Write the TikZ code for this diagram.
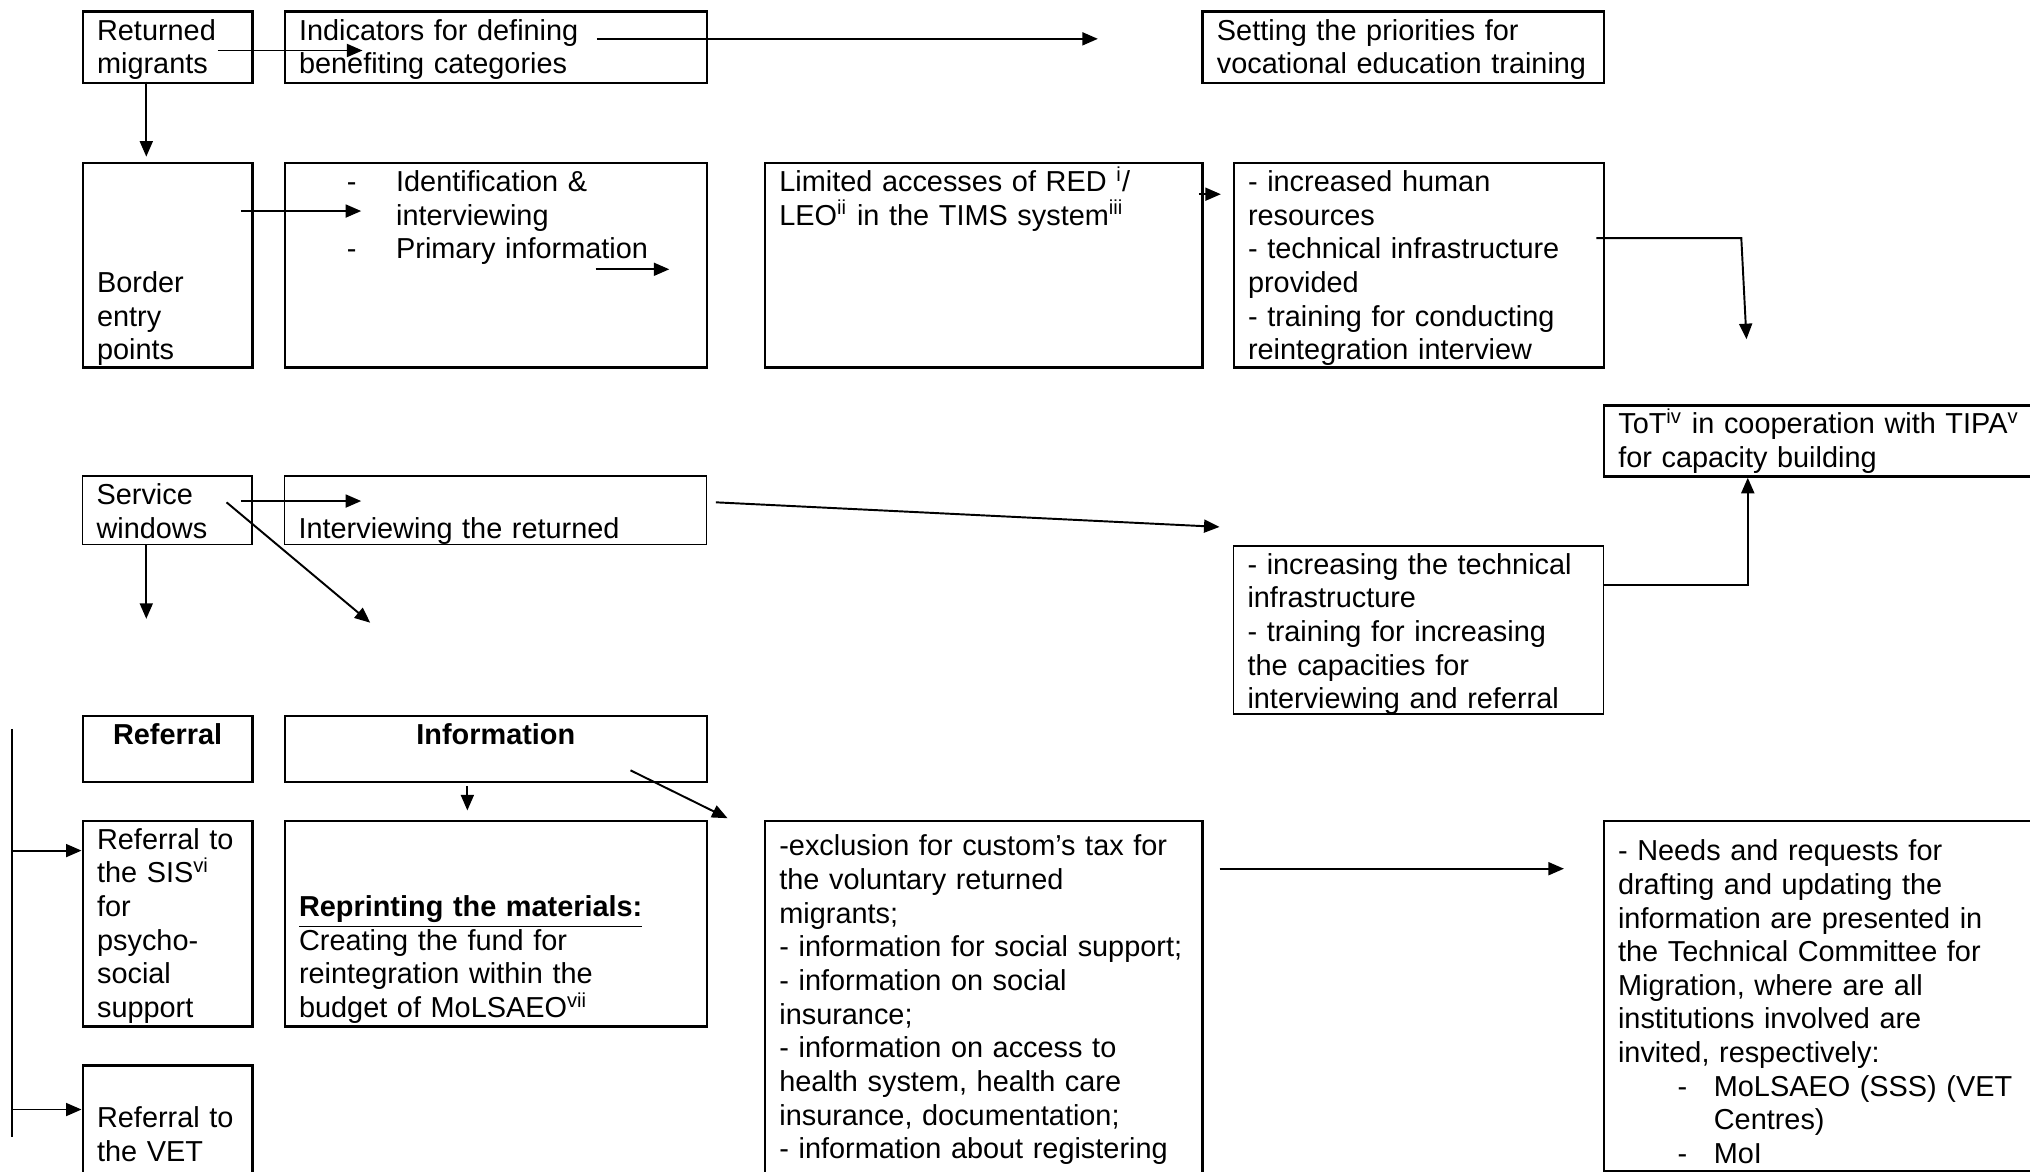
\documentclass[tikz,border=0pt]{standalone}
\usepackage{fontspec}
\setmainfont{Liberation Sans}
\usetikzlibrary{arrows.meta}

\begin{document}
\begin{tikzpicture}[x=0.5pt, y=-0.5pt,
  >={Triangle[length=6pt,width=5pt]},
  box/.style={draw, line width=1pt, anchor=north west, inner xsep=5.5pt, inner ysep=0pt,
    align=left, text height=11pt, font=\fontsize{11.15}{13}\selectfont},
  thinbox/.style={box, line width=0.6pt},
  link/.style={line width=0.75pt}]
  \useasboundingbox (0,0) rectangle (1568,905);
  \clip (0,0) rectangle (1568,905);

  % first column
  \node[box, text width=54.5pt, text depth=16.5pt] (ret) at (63,8) {Returned\\migrants};
  \node[box, text width=54.5pt, text depth=68pt] (bord) at (63,125)
    {\mbox{}\\\mbox{}\\\mbox{}\\Border\\entry\\points};
  \node[thinbox, text width=54.5pt, text depth=15.5pt] (serv) at (63,367) {Service\\windows};
  \node[box, align=center, text width=54.5pt, text depth=14.5pt] (refl) at (63,552) {\textbf{Referral}};
  \node[box, text width=54.5pt, text depth=68.5pt] (sis) at (63,633)
    {Referral to\\the SIS\textsuperscript{vi}\\for\\psycho-\\social\\support};
  \node[box, text width=54.5pt, text depth=58pt] (vet) at (63,822) {\mbox{}\\Referral to\\the VET};

  % second column
  \node[box, text width=152pt, text depth=16.5pt] (ind) at (219,8)
    {Indicators for defining\\benefiting categories};
  \node[box, text width=152pt, text depth=68pt] (ident) at (219,125)
    {\hspace*{18.5pt}\makebox[19pt][l]{-}Identification \&\\
     \hspace*{37.5pt}interviewing\\
     \hspace*{18.5pt}\makebox[19pt][l]{-}Primary information};
  \node[thinbox, text width=152pt, text depth=15.5pt] (intv) at (219,367)
    {\mbox{}\\Interviewing the returned};
  \node[box, align=center, text width=152pt, text depth=14.5pt] (info) at (219,552) {\textbf{Information}};
  \node[box, text width=152pt, text depth=68.5pt] (repr) at (219,633)
    {\mbox{}\\\mbox{}\\\underline{\textbf{Reprinting the materials:}}\\Creating the fund for\\
     reintegration within the\\budget of MoLSAEO\textsuperscript{vii}};

  % third column
  \node[box, text width=158pt, text depth=68pt] (lim) at (590,125)
    {Limited accesses of RED \textsuperscript{i}/\\LEO\textsuperscript{ii} in the TIMS system\textsuperscript{iii}};
  \node[box, text width=158pt, text height=13.5pt, text depth=150pt] (excl) at (590,633)
    {-exclusion for custom's tax for\\the voluntary returned\\migrants;\\
     - information for social support;\\- information on social\\insurance;\\
     - information on access to\\health system, health care\\insurance, documentation;\\
     - information about registering};

  % fourth column
  \node[box, text width=144pt, text depth=16.5pt] (prio) at (928,8)
    {Setting the priorities for\\vocational education training};
  \node[box, text width=132pt, text depth=68pt] (hum) at (952,125)
    {- increased human\\resources\\- technical infrastructure\\provided\\
     - training for conducting\\reintegration interview};
  \node[thinbox, text width=132pt, text depth=54pt] (tech) at (952,421)
    {- increasing the technical\\infrastructure\\- training for increasing\\
     the capacities for\\interviewing and referral};

  % last column
  \node[box, text width=170pt, text depth=16.5pt] (tot) at (1238,312)
    {ToT\textsuperscript{iv} in cooperation with TIPA\textsuperscript{v}\\for capacity building};
  \node[box, line width=0.8pt, text width=170pt, text height=15.5pt, text depth=120pt] (need) at (1238,633)
    {- Needs and requests for\\drafting and updating the\\information are presented in\\
     the Technical Committee for\\Migration, where are all\\institutions involved are\\
     invited, respectively:\\
     \hspace*{23pt}\makebox[14pt][l]{-}MoLSAEO (SSS) (VET\\
     \hspace*{37pt}Centres)\\
     \hspace*{23pt}\makebox[14pt][l]{-}MoI};

  % free ends of the arrows
  \coordinate (ret-o) at (168,39);    \coordinate (ind-i) at (280,39);
  \coordinate (ind-o) at (461,30);    \coordinate (prio-i) at (848,30);
  \coordinate (ret-d) at (113,63);    \coordinate (bord-u) at (113,121);
  \coordinate (bord-o) at (186,163);  \coordinate (ident-i) at (279,163);
  \coordinate (ident-o) at (460,208); \coordinate (ident-e) at (517,208);
  \coordinate (lim-o) at (926,150);   \coordinate (hum-i) at (943,150);
  \coordinate (hum-o) at (1233,184);  \coordinate (hum-c) at (1345,184);
  \coordinate (tot-a) at (1349,262);
  \coordinate (tech-o) at (1238,452); \coordinate (tot-b) at (1350,369);
  \coordinate (serv-o) at (186,387);  \coordinate (intv-i) at (279,387);
  \coordinate (serv-x) at (175,388);  \coordinate (serv-y) at (286,481);
  \coordinate (serv-d) at (113,421);  \coordinate (refl-u) at (113,478);
  \coordinate (intv-o) at (553,388);  \coordinate (tech-i) at (942,407);
  \coordinate (info-d) at (361,607);  \coordinate (repr-u) at (361,626);
  \coordinate (info-x) at (487,595);  \coordinate (excl-u) at (562,632);
  \coordinate (bar-t) at (9,563);     \coordinate (bar-b) at (9,878);
  \coordinate (bar-1) at (9,657);     \coordinate (bar-2) at (9,857);
  \coordinate (excl-o) at (942,671);  \coordinate (need-i) at (1208,671);

  \path[->, link]
    (ret-o) edge (ind-i)
    (ind-o) edge (prio-i)
    (ret-d) edge (bord-u)
    (bord-o) edge (ident-i)
    (ident-o) edge (ident-e)
    (lim-o) edge (hum-i)
    (serv-o) edge (intv-i)
    (serv-x) edge (serv-y)
    (serv-d) edge (refl-u)
    (intv-o) edge (tech-i)
    (info-d) edge (repr-u)
    (info-x) edge (excl-u)
    (excl-o) edge (need-i)
    (bar-1) edge (sis.west |- bar-1)
    (bar-2) edge (vet.west |- bar-2)
    ;
  \draw[->, link] (hum-o) -- (hum-c) -- (tot-a);
  \draw[->, link] (tech-o) -| (tot-b);
  \draw[link] (bar-t) -- (bar-b);
\end{tikzpicture}
\end{document}
